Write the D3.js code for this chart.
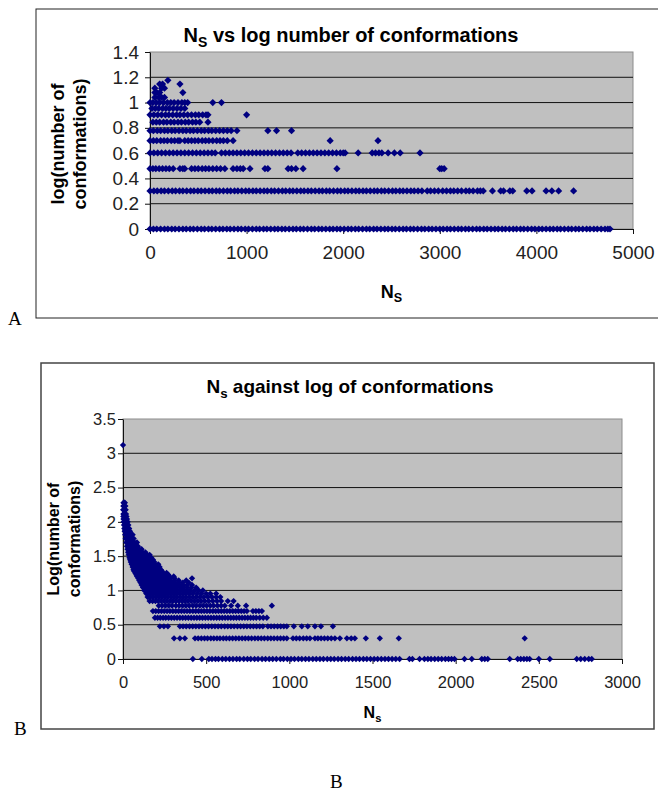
<!DOCTYPE html>
<html>
<head>
<meta charset="utf-8">
<script src="https://cdn.jsdelivr.net/npm/d3@7"></script>
<style>
  body { margin: 0; background: #fff; }
  svg { display: block; font-family: Arial, "Liberation Sans", sans-serif; }
</style>
</head>
<body>
<div id="chart"></div>
<script>
// ---------- panel A: log(number of conformations) levels and the Ns values on each ----------
const aLevels = [0, 0.301, 0.477, 0.602, 0.699, 0.778, 0.845, 0.903, 0.954, 1.0, 1.041, 1.079, 1.114, 1.146, 1.176]
const aY0 = [0, 35, 70, 110, 150, 185, 225, 260, 300, 340, 375, 415, 450, 490, 530, 565, 605, 640, 680, 720, 755, 795, 830, 870, 910, 945, 985, 1020, 1060, 1100, 1135, 1175, 1210, 1250, 1290, 1325, 1365, 1400, 1440, 1480, 1515, 1555, 1590, 1630, 1670, 1705, 1745, 1780, 1820, 1860, 1895, 1935, 1970, 2010, 2050, 2085, 2125, 2160, 2200, 2240, 2275, 2315, 2350, 2390, 2430, 2465, 2505, 2540, 2580, 2620, 2655, 2695, 2730, 2770, 2810, 2845, 2885, 2920, 2960, 3000, 3035, 3075, 3110, 3150, 3190, 3225, 3265, 3300, 3340, 3380, 3415, 3455, 3490, 3530, 3570, 3605, 3645, 3680, 3720, 3760, 3795, 3835, 3870, 3910, 3950, 3985, 4025, 4060, 4100, 4140, 4175, 4215, 4250, 4290, 4330, 4365, 4405, 4440, 4480, 4520, 4555, 4595, 4630, 4670, 4710, 4740, 4762]
const aY301 = [0, 40, 75, 115, 150, 190, 230, 265, 305, 340, 380, 420, 455, 495, 530, 570, 610, 645, 685, 720, 760, 800, 835, 875, 910, 950, 990, 1025, 1065, 1100, 1140, 1180, 1215, 1255, 1290, 1330, 1370, 1405, 1445, 1480, 1520, 1560, 1595, 1635, 1670, 1710, 1750, 1785, 1825, 1860, 1900, 1940, 1975, 2015, 2050, 2090, 2130, 2165, 2205, 2240, 2280, 2320, 2355, 2395, 2430, 2470, 2510, 2545, 2585, 2620, 2660, 2700, 2735, 2775, 2815, 2870, 2905, 2945, 2985, 3030, 3070, 3110, 3145, 3185, 3225, 3270, 3305, 3345, 3390, 3420, 3450, 3545, 3630, 3660, 3725, 3755, 3900, 3955, 4100, 4160, 4230, 4385]
const aY477 = [0, 30, 60, 95, 130, 165, 200, 240, 310, 340, 360, 430, 465, 500, 540, 575, 610, 650, 690, 730, 775, 860, 900, 935, 965, 1035, 1190, 1220, 1430, 1465, 1510, 1585, 1935, 3000, 3020, 3045]
const aY602 = [0, 40, 80, 120, 160, 200, 240, 280, 320, 360, 400, 440, 480, 520, 560, 600, 640, 675, 740, 780, 820, 860, 900, 940, 980, 1020, 1060, 1100, 1140, 1180, 1220, 1260, 1300, 1340, 1380, 1420, 1460, 1530, 1570, 1610, 1650, 1690, 1730, 1770, 1810, 1850, 1890, 1930, 1970, 2000, 2020, 2155, 2300, 2335, 2370, 2400, 2465, 2530, 2590, 2795]
const aY699 = [0, 35, 70, 110, 145, 180, 220, 255, 290, 310, 360, 395, 430, 465, 500, 540, 575, 610, 650, 690, 725, 760, 800, 860, 1865, 2360]
const aY778 = [0, 35, 75, 110, 150, 185, 225, 260, 300, 340, 375, 415, 450, 490, 530, 565, 605, 640, 680, 720, 760, 800, 840, 900, 1220, 1310, 1465]
const aY845 = [30, 65, 100, 140, 175, 215, 250, 290, 325, 365, 400, 440, 475, 515, 600]
const aY903 = [0, 40, 80, 120, 160, 195, 235, 275, 310, 350, 390, 430, 470, 505, 545, 580, 600, 1000]
const aY954 = [20, 55, 90, 130, 165, 200, 240, 280, 320, 360]
const aY1000 = [0, 30, 65, 100, 140, 180, 215, 250, 290, 330, 360, 390, 650, 740]
const aY1041 = [50, 90, 120, 150]
const aY1079 = [50, 70, 100, 340]
const aY1114 = [50, 120, 150]
const aY1146 = [100, 130, 310]
const aY1176 = [185]
const aRows = [aY0, aY301, aY477, aY602, aY699, aY778, aY845, aY903, aY954, aY1000, aY1041, aY1079, aY1114, aY1146, aY1176]
const aXTicks = [0, 1000, 2000, 3000, 4000, 5000]
const aYTicks = [0, 0.2, 0.4, 0.6, 0.8, 1.0, 1.2, 1.4]
const aYLabels = ['0', '0.2', '0.4', '0.6', '0.8', '1', '1.2', '1.4']

// ---------- panel B ----------
const bY0 = [420, 474, 516, 535, 556, 574, 597, 618, 640, 661, 683, 702, 726, 748, 768, 791, 812, 836, 857, 879, 900, 922, 946, 965, 988, 1010, 1031, 1054, 1075, 1097, 1118, 1141, 1162, 1184, 1205, 1228, 1249, 1270, 1293, 1314, 1336, 1357, 1380, 1401, 1422, 1445, 1466, 1488, 1510, 1531, 1553, 1575, 1596, 1618, 1640, 1663, 1722, 1740, 1783, 1812, 1833, 1852, 1874, 1895, 1916, 1938, 1957, 1975, 1993, 2053, 2097, 2157, 2175, 2193, 2325, 2373, 2391, 2410, 2428, 2445, 2500, 2566, 2728, 2752, 2776, 2800, 2818]
const bY301 = [307, 342, 372, 433, 452, 471, 490, 508, 528, 546, 565, 583, 603, 621, 640, 659, 678, 697, 716, 735, 754, 773, 793, 812, 831, 850, 870, 889, 908, 928, 947, 966, 985, 1022, 1042, 1062, 1084, 1104, 1124, 1154, 1172, 1191, 1211, 1231, 1252, 1274, 1304, 1346, 1372, 1394, 1460, 1544, 1658, 2415]
const bY477 = [222, 246, 270, 342, 361, 380, 400, 419, 438, 457, 476, 495, 514, 534, 553, 572, 591, 611, 630, 649, 668, 688, 707, 726, 745, 765, 784, 803, 822, 841, 871, 890, 909, 929, 948, 967, 985, 1027, 1075, 1111, 1154, 1190, 1262]
const bY602 = [192, 208, 224, 241, 257, 274, 291, 308, 325, 342, 359, 376, 393, 410, 427, 444, 461, 478, 495, 512, 529, 546, 563, 580, 597, 614, 631, 648, 665, 682, 699, 716, 733, 750, 767, 784, 801, 822, 843, 865]
const bY699 = [180, 197, 214, 231, 248, 265, 282, 300, 317, 334, 351, 368, 385, 402, 420, 437, 454, 471, 488, 505, 522, 540, 557, 574, 591, 608, 625, 642, 660, 677, 694, 711, 728, 745, 781, 799, 817, 835]
// the dense cloud above ~0.75
const bCloudLevels = [0.778, 0.845, 0.903, 0.954, 1.0, 1.041, 1.079, 1.114, 1.146, 1.176, 1.204, 1.23, 1.255, 1.279, 1.301, 1.342, 1.38, 1.415, 1.447, 1.477, 1.519, 1.556, 1.602, 1.643, 1.699, 1.756, 1.813, 1.863, 1.903, 1.954, 2.0, 2.041, 2.079, 2.114, 2.176, 2.23, 2.279, 3.12]
const bCloudRows = [
  [215, 235, 255, 275, 295, 318, 338, 358, 378, 398, 420, 440, 462, 482, 503, 525, 545, 568, 590, 612, 650, 690, 740, 895],
  [160, 178, 195, 212, 230, 248, 265, 283, 300, 318, 336, 355, 372, 390, 410, 430, 450, 470, 492, 515, 540, 565, 590, 630, 665],
  [148, 165, 182, 200, 218, 235, 253, 270, 290, 308, 325, 345, 362, 380, 400, 420, 440, 462, 485, 510, 535, 560, 585],
  [140, 158, 175, 193, 210, 228, 246, 265, 283, 302, 320, 340, 360, 378, 398, 420, 445, 470, 500, 525, 560],
  [128, 145, 162, 180, 198, 215, 233, 250, 270, 288, 306, 325, 345, 365, 385, 405, 430, 455, 480],
  [120, 138, 155, 172, 190, 208, 226, 245, 263, 282, 300, 320, 342, 362, 385, 410, 440],
  [112, 130, 148, 165, 183, 200, 220, 238, 256, 275, 295, 315, 338, 360, 385, 415],
  [105, 122, 140, 158, 175, 193, 212, 230, 250, 270, 290, 312, 335, 360, 395],
  [98, 115, 132, 150, 168, 186, 205, 224, 244, 265, 285, 310, 335, 380],
  [92, 108, 125, 143, 160, 178, 198, 218, 240, 262, 285, 310, 415],
  [85, 102, 118, 135, 152, 170, 190, 210, 232, 255, 280, 305],
  [80, 95, 112, 128, 145, 163, 182, 202, 225, 250, 272],
  [74, 90, 106, 122, 140, 158, 176, 196, 218, 240, 262],
  [68, 84, 100, 116, 133, 150, 170, 190, 212, 235],
  [63, 78, 94, 110, 127, 145, 164, 185, 205, 228],
  [58, 72, 88, 104, 120, 138, 158, 178, 200, 220],
  [52, 67, 82, 98, 114, 132, 150, 170, 192, 212],
  [47, 62, 77, 92, 108, 126, 145, 165, 188],
  [43, 57, 72, 87, 103, 120, 140, 160, 180],
  [39, 52, 67, 82, 98, 115, 133, 150, 170],
  [35, 48, 62, 77, 92, 108, 125, 142, 160],
  [31, 44, 58, 72, 87, 102, 118, 135],
  [27, 40, 53, 67, 82, 96, 112],
  [24, 36, 49, 62, 76, 90],
  [20, 32, 44, 57, 70, 84],
  [16, 27, 39, 51, 64],
  [13, 23, 35, 47, 58],
  [10, 20, 31, 42],
  [8, 17, 27, 37],
  [6, 14, 23, 32],
  [4, 11, 19, 28],
  [3, 9, 16, 24],
  [2, 8, 14, 21],
  [2, 7, 12, 18],
  [1, 6, 11, 16],
  [2, 6, 10, 14],
  [3, 7, 11],
  [0]
]
const bLevels = [0, 0.301, 0.477, 0.602, 0.699].concat(bCloudLevels)
const bRows = [bY0, bY301, bY477, bY602, bY699].concat(bCloudRows)
const bXTicks = [0, 500, 1000, 1500, 2000, 2500, 3000]
const bYTicks = [0, 0.5, 1.0, 1.5, 2.0, 2.5, 3.0, 3.5]
const bYLabels = ['0', '0.5', '1', '1.5', '2', '2.5', '3', '3.5']

const svg = d3.select('#chart')
  .append('svg')
  .attr('width', 658)
  .attr('height', 791)

// N with a subscript s, then the rest of the text
function subText(sel, sub, rest, dy) {
  sel.append('tspan').text('N')
  sel.append('tspan').attr('dy', dy).attr('font-size', '0.7em').text(sub)
  if (rest) sel.append('tspan').attr('dy', -dy).text(rest)
}

function panel(p) {
  const g = svg.append('g')

  g.append('rect')
    .attr('x', p.box[0]).attr('y', p.box[1])
    .attr('width', p.box[2]).attr('height', p.box[3])
    .attr('fill', 'none')
    .attr('stroke', p.boxColor)
    .attr('stroke-width', p.boxWidth)

  const x = d3.scaleLinear().domain(p.xDomain).range([p.left, p.right])
  const y = d3.scaleLinear().domain(p.yDomain).range([p.bottom, p.top])

  // grey plot area
  g.append('rect')
    .attr('x', p.left).attr('y', p.top)
    .attr('width', p.right - p.left).attr('height', p.bottom - p.top)
    .attr('fill', '#c0c0c0')
    .attr('stroke', '#8c8c8c')

  g.selectAll('line.grid')
    .data(p.yTicks.filter(t => t > 0 && t < p.yDomain[1]))
    .join('line')
      .attr('class', 'grid')
      .attr('x1', p.left).attr('x2', p.right)
      .attr('y1', d => y(d)).attr('y2', d => y(d))
      .attr('stroke', '#111')

  const xAxis = g.append('g')
    .attr('transform', `translate(0,${p.bottom})`)
    .call(d3.axisBottom(x).tickValues(p.xTicks).tickFormat(d3.format('d'))
      .tickSize(5).tickSizeOuter(0).tickPadding(p.xPad))
  const yAxis = g.append('g')
    .attr('transform', `translate(${p.left},0)`)
    .call(d3.axisLeft(y).tickValues(p.yTicks).tickFormat((d, i) => p.yLabels[i])
      .tickSize(5).tickSizeOuter(0).tickPadding(p.yPad))
  ;[xAxis, yAxis].forEach(a => {
    a.selectAll('path, line').attr('stroke', '#111')
    a.selectAll('text').attr('fill', '#222').attr('font-size', p.tickFont)
      .attr('font-family', 'Arial, "Liberation Sans", sans-serif')
  })

  // points
  const pts = p.rows.flatMap((xs, i) => xs.map(v => [v, p.levels[i]]))
  g.selectAll('path.pt')
    .data(pts)
    .join('path')
      .attr('class', 'pt')
      .attr('d', d3.symbol(d3.symbolSquare, p.markSize))
      .attr('transform', d => `translate(${x(d[0])},${y(d[1])}) rotate(45)`)
      .attr('fill', '#000080')

  // titles
  const t = g.append('text')
    .attr('x', p.titlePos[0]).attr('y', p.titlePos[1])
    .attr('text-anchor', 'middle')
    .attr('font-weight', 'bold')
    .attr('font-size', p.titleFont)
  subText(t, p.sub, p.title, 5)

  const xt = g.append('text')
    .attr('x', (p.left + p.right) / 2).attr('y', p.xTitleY)
    .attr('text-anchor', 'middle')
    .attr('font-weight', 'bold')
    .attr('font-size', p.axisFont)
  subText(xt, p.sub, null, 4)

  p.yTitle.forEach((line, i) => {
    g.append('text')
      .attr('transform', `translate(${p.yTitleX[i]},${p.yTitleY}) rotate(-90)`)
      .attr('text-anchor', 'middle')
      .attr('font-weight', 'bold')
      .attr('font-size', p.axisFont)
      .text(line)
  })
}

panel({
  box: [36, 9, 640, 309], boxColor: '#222', boxWidth: 1,
  left: 150, right: 633, top: 52, bottom: 229,
  xDomain: [0, 5000], yDomain: [0, 1.4],
  xTicks: aXTicks, yTicks: aYTicks, yLabels: aYLabels,
  levels: aLevels, rows: aRows,
  xPad: 12, yPad: 6, tickFont: 19, markSize: 26,
  sub: 'S', title: ' vs log number of conformations', titlePos: [351, 42], titleFont: 20,
  xTitleY: 298, axisFont: 18,
  yTitle: ['log(number of', 'conformations)'], yTitleX: [64, 86], yTitleY: 144
})

panel({
  box: [41, 363, 613, 366], boxColor: '#444', boxWidth: 1.5,
  left: 123, right: 622, top: 419, bottom: 659,
  xDomain: [0, 3000], yDomain: [0, 3.5],
  xTicks: bXTicks, yTicks: bYTicks, yLabels: bYLabels,
  levels: bLevels, rows: bRows,
  xPad: 12, yPad: 2, tickFont: 16.5, markSize: 20,
  sub: 's', title: ' against log of conformations', titlePos: [350, 393], titleFont: 19,
  xTitleY: 718, axisFont: 16,
  yTitle: ['Log(number of', 'conformations)'], yTitleX: [59, 80], yTitleY: 539
})

// panel letters
const letters = [['A', 8, 325], ['B', 14, 735], ['B', 330, 788]]
svg.selectAll('text.letter')
  .data(letters)
  .join('text')
    .attr('class', 'letter')
    .attr('x', d => d[1]).attr('y', d => d[2])
    .attr('font-family', '"Liberation Serif", "Times New Roman", serif')
    .attr('font-size', 19)
    .text(d => d[0])
</script>
</body>
</html>
